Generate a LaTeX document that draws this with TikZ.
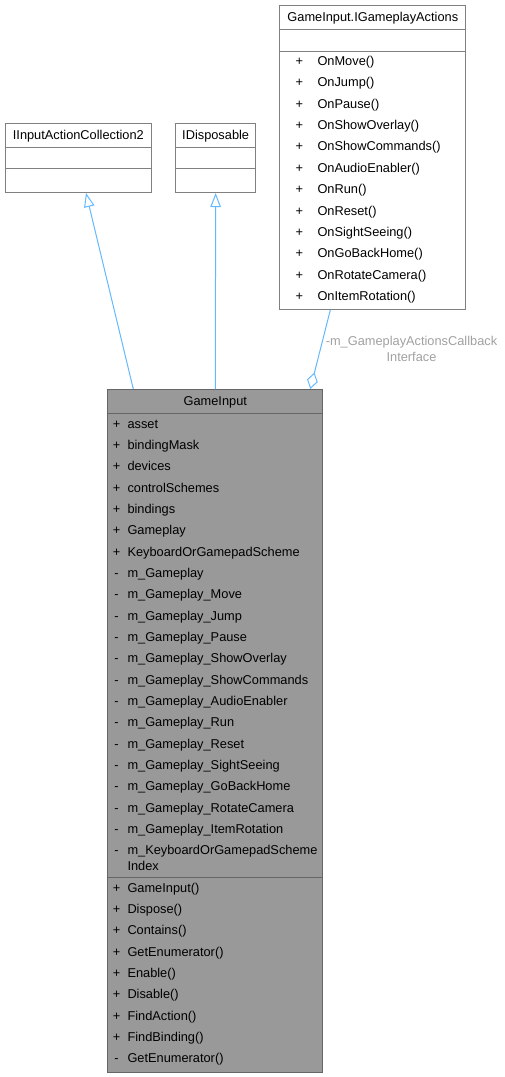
\documentclass[tikz,border=0pt]{standalone}
\usepackage{fontspec}
\setmainfont{Liberation Sans}
\usetikzlibrary{arrows.meta, positioning}
\definecolor{edgeblue}{HTML}{63B8FF}
\definecolor{boxline}{HTML}{808080}
\definecolor{boxgrey}{HTML}{999999}
\definecolor{labelgrey}{HTML}{A0A0A0}

\begin{document}
\begin{tikzpicture}[x=1pt, y=-1pt,
    font=\fontsize{12.8}{15}\selectfont,
    classbox/.style={draw=boxline, line width=1pt, anchor=north west, inner sep=0pt},
    sepline/.style={draw=boxline, line width=1pt},
    member/.style={anchor=west, inner sep=0pt, text height=9.6pt, text depth=1.6pt},
    vis/.style={inner sep=0pt, text height=9.6pt, text depth=1.6pt},
    inherit/.style={draw=edgeblue, line width=1pt, -{Triangle[open, length=14pt, width=10.5pt]}},
    aggr/.style={draw=edgeblue, line width=1pt, -{Diamond[open, length=17pt, width=11pt]}},
    lbl/.style={text=labelgrey, align=center, inner sep=0pt, font=\fontsize{12.8}{16.3}\selectfont}]
  \useasboundingbox (0,0) rectangle (505,1077);

  % interfaces
  \node[classbox, minimum width=186pt, minimum height=304pt] (actions) at (279.3,5) {};
  \node (actions_t) at ([yshift=-13.3pt]actions.north) {GameInput.IGameplayActions};
  \draw[sepline] ([yshift=-24.5pt]actions.north west) -- ([yshift=-24.5pt]actions.north east);
  \draw[sepline] ([yshift=-46pt]actions.north west) -- ([yshift=-46pt]actions.north east);
  \foreach \n [count=\i from 0] in {OnMove(), OnJump(), OnPause(), OnShowOverlay(),
      OnShowCommands(), OnAudioEnabler(), OnRun(), OnReset(), OnSightSeeing(),
      OnGoBackHome(), OnRotateCamera(), OnItemRotation()} {
    \node[vis] (cbv_\i) at (299.3, {61.5+21.36*\i}) {+};
    \node[member] (cb_\i) at (317.3, {61.5+21.36*\i}) {\n};
  }

  \node[classbox, minimum width=145.7pt, minimum height=69pt] (coll) at (5,123) {};
  \node (coll_t) at ([yshift=-13.3pt]coll.north) {IInputActionCollection2};
  \draw[sepline] ([yshift=-24pt]coll.north west) -- ([yshift=-24pt]coll.north east);
  \draw[sepline] ([yshift=-45pt]coll.north west) -- ([yshift=-45pt]coll.north east);

  \node[classbox, minimum width=80.3pt, minimum height=69pt] (disp) at (175,123) {};
  \node (disp_t) at ([yshift=-13.3pt]disp.north) {IDisposable};
  \draw[sepline] ([yshift=-24pt]disp.north west) -- ([yshift=-24pt]disp.north east);
  \draw[sepline] ([yshift=-45pt]disp.north west) -- ([yshift=-45pt]disp.north east);

  % main class
  \node[classbox, draw=black!60, fill=boxgrey, minimum width=215pt, minimum height=682.7pt] (game) at (107.3,389) {};
  \node (game_t) at ([yshift=-13.3pt]game.north) {GameInput};
  \draw[sepline, draw=black!60] ([yshift=-24.3pt]game.north west) -- ([yshift=-24.3pt]game.north east);
  \draw[sepline, draw=black!60] ([yshift=-488.3pt]game.north west) -- ([yshift=-488.3pt]game.north east);
  \foreach \s/\n [count=\i from 0] in {+/asset, +/bindingMask, +/devices, +/controlSchemes,
      +/bindings, +/Gameplay, +/KeyboardOrGamepadScheme, -/m\_Gameplay, -/m\_Gameplay\_Move,
      -/m\_Gameplay\_Jump, -/m\_Gameplay\_Pause, -/m\_Gameplay\_ShowOverlay,
      -/m\_Gameplay\_ShowCommands, -/m\_Gameplay\_AudioEnabler, -/m\_Gameplay\_Run,
      -/m\_Gameplay\_Reset, -/m\_Gameplay\_SightSeeing, -/m\_Gameplay\_GoBackHome,
      -/m\_Gameplay\_RotateCamera, -/m\_Gameplay\_ItemRotation, -/m\_KeyboardOrGamepadScheme} {
    \node[vis] (attrv_\i) at (116.6, {424.3+21.33*\i}) {\s};
    \node[member] (attr_\i) at (127.3, {424.3+21.33*\i}) {\n};
  }
  \node[member] (attr_idx) at (127.3,866) {Index};
  \foreach \s/\n [count=\i from 0] in {+/GameInput(), +/Dispose(), +/Contains(),
      +/GetEnumerator(), +/Enable(), +/Disable(), +/FindAction(), +/FindBinding(),
      -/GetEnumerator()} {
    \node[vis] (methv_\i) at (116.6, {888.3+21.33*\i}) {\s};
    \node[member] (meth_\i) at (127.3, {888.3+21.33*\i}) {\n};
  }

  % relations
  \path ([xshift=26pt]game.north west) edge[inherit] ([xshift=81pt]coll.south west)
        (game.north) edge[inherit] (disp.south)
        ([xshift=51pt]actions.south west) edge[aggr] ([xshift=-13pt]game.north east);
  \node[lbl] (agg_lbl) at (411.5,349) {-m\_GameplayActionsCallback\\Interface};
\end{tikzpicture}
\end{document}
